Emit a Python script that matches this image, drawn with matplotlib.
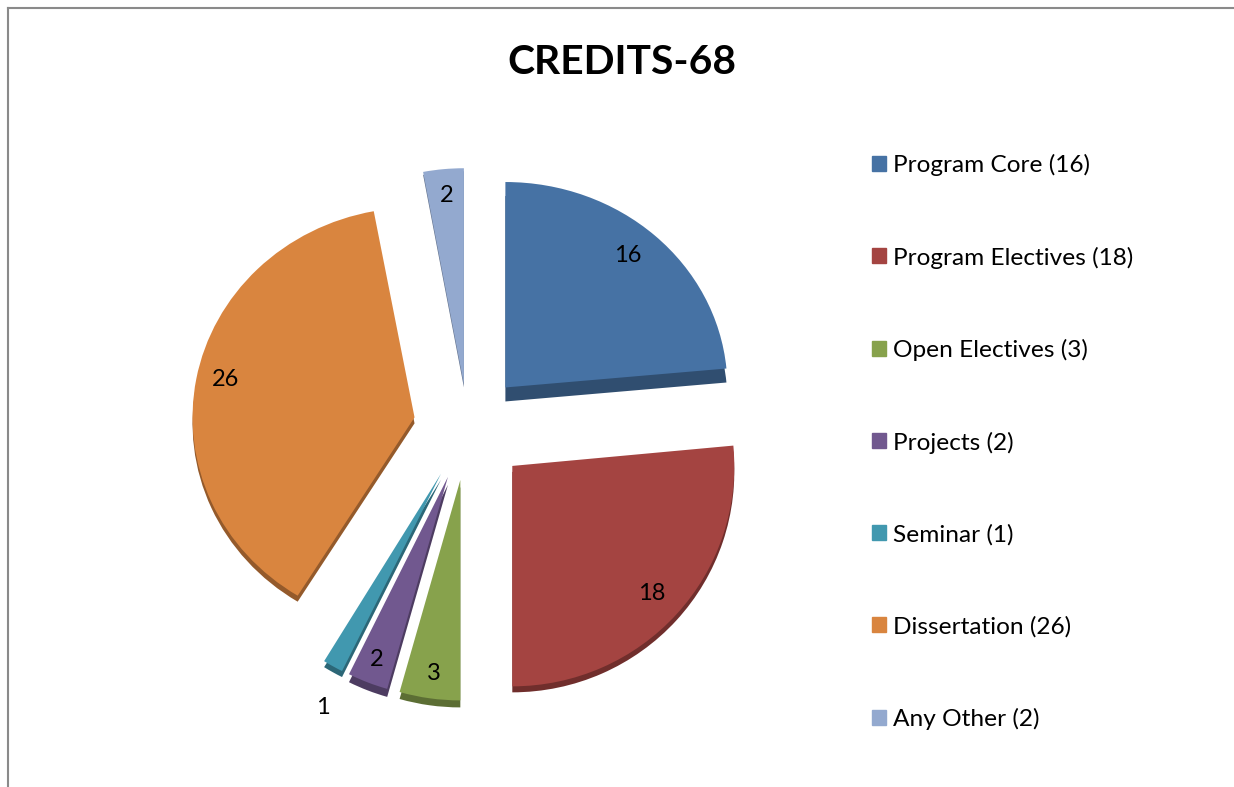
import matplotlib
matplotlib.use("Agg")
import matplotlib.pyplot as plt
from matplotlib.colors import to_rgb
from matplotlib.patches import Patch
from matplotlib.lines import Line2D
from matplotlib.transforms import Affine2D

plt.rcParams['font.family'] = ['Lato', 'DejaVu Sans']

names = ["Program Core", "Program Electives", "Open Electives", "Projects", "Seminar", "Dissertation", "Any Other"]
credits = [16, 18, 3, 2, 1, 26, 2]
colors = ["#4672A4", "#A44441", "#87A24C", "#71588F", "#4198AF", "#D9853F", "#93A9CF"]
explode = [0.25, 0.27, 0.25, 0.25, 0.25, 0.245, 0.2]
# perspective and thickness of each slice, by eye
yscale = [0.96, 1.03, 1.03, 1.03, 1.03, 0.98, 1.01]
depth = [14, 6, 7, 8, 6, 6, 3]

# label spots in pixels
label_x = [628, 652, 434, 377, 323, 226, 447]
label_y = [256, 594, 674, 659, 708, 380, 196]

W, H = 1234, 787
cx, cy = 468, 427
rx, ry = 222, 214

fig = plt.figure(figsize=(W / 100, H / 100), dpi=100)
ax = fig.add_axes([0, 0, 1, 1])

# fake 3d, darker pie under the real one
dark = [tuple(c * 0.68 for c in to_rgb(col)) for col in colors]
under, _ = ax.pie(credits, explode=explode, colors=dark, startangle=90, counterclock=False)
top, _ = ax.pie(credits, explode=explode, colors=colors, startangle=90, counterclock=False)
ax.set_aspect('auto')
ax.set_xlim(-cx / rx, (W - cx) / rx)
ax.set_ylim((cy - H) / ry, cy / ry)
ax.axis('off')

for i in range(len(credits)):
    ax_y = top[i].center[1]
    t = Affine2D().translate(0, -ax_y).scale(1, yscale[i]).translate(0, ax_y)
    top[i].set_transform(t + ax.transData)
    under[i].set_transform(t + Affine2D().translate(0, -depth[i] / ry) + ax.transData)

for v, x, y in zip(credits, label_x, label_y):
    fig.text(x / W, 1 - y / H, str(v), fontsize=17, color="black", ha='center', va='center')

fig.text(622 / W, 1 - 62 / H, "CREDITS-68", fontsize=29.3, fontweight='bold', ha='center', va='center')

# chart border, only top and left are visible
fig.add_artist(Line2D([8 / W, 8 / W], [0, 1 - 8 / H], color="#8a8a8a", lw=1.5))
fig.add_artist(Line2D([8 / W, 1], [1 - 8 / H, 1 - 8 / H], color="#8a8a8a", lw=1.5))

handles = [Patch(color=c, label="%s (%d)" % (n, v)) for n, v, c in zip(names, credits, colors)]
fig.legend(handles=handles, loc='upper left', bbox_to_anchor=(850 / W, 1 - 132 / H), frameon=False,
           fontsize=17.6, handlelength=0.57, handleheight=0.57, handletextpad=0.29, labelspacing=2.88)

fig.savefig("out.png", dpi=100)
